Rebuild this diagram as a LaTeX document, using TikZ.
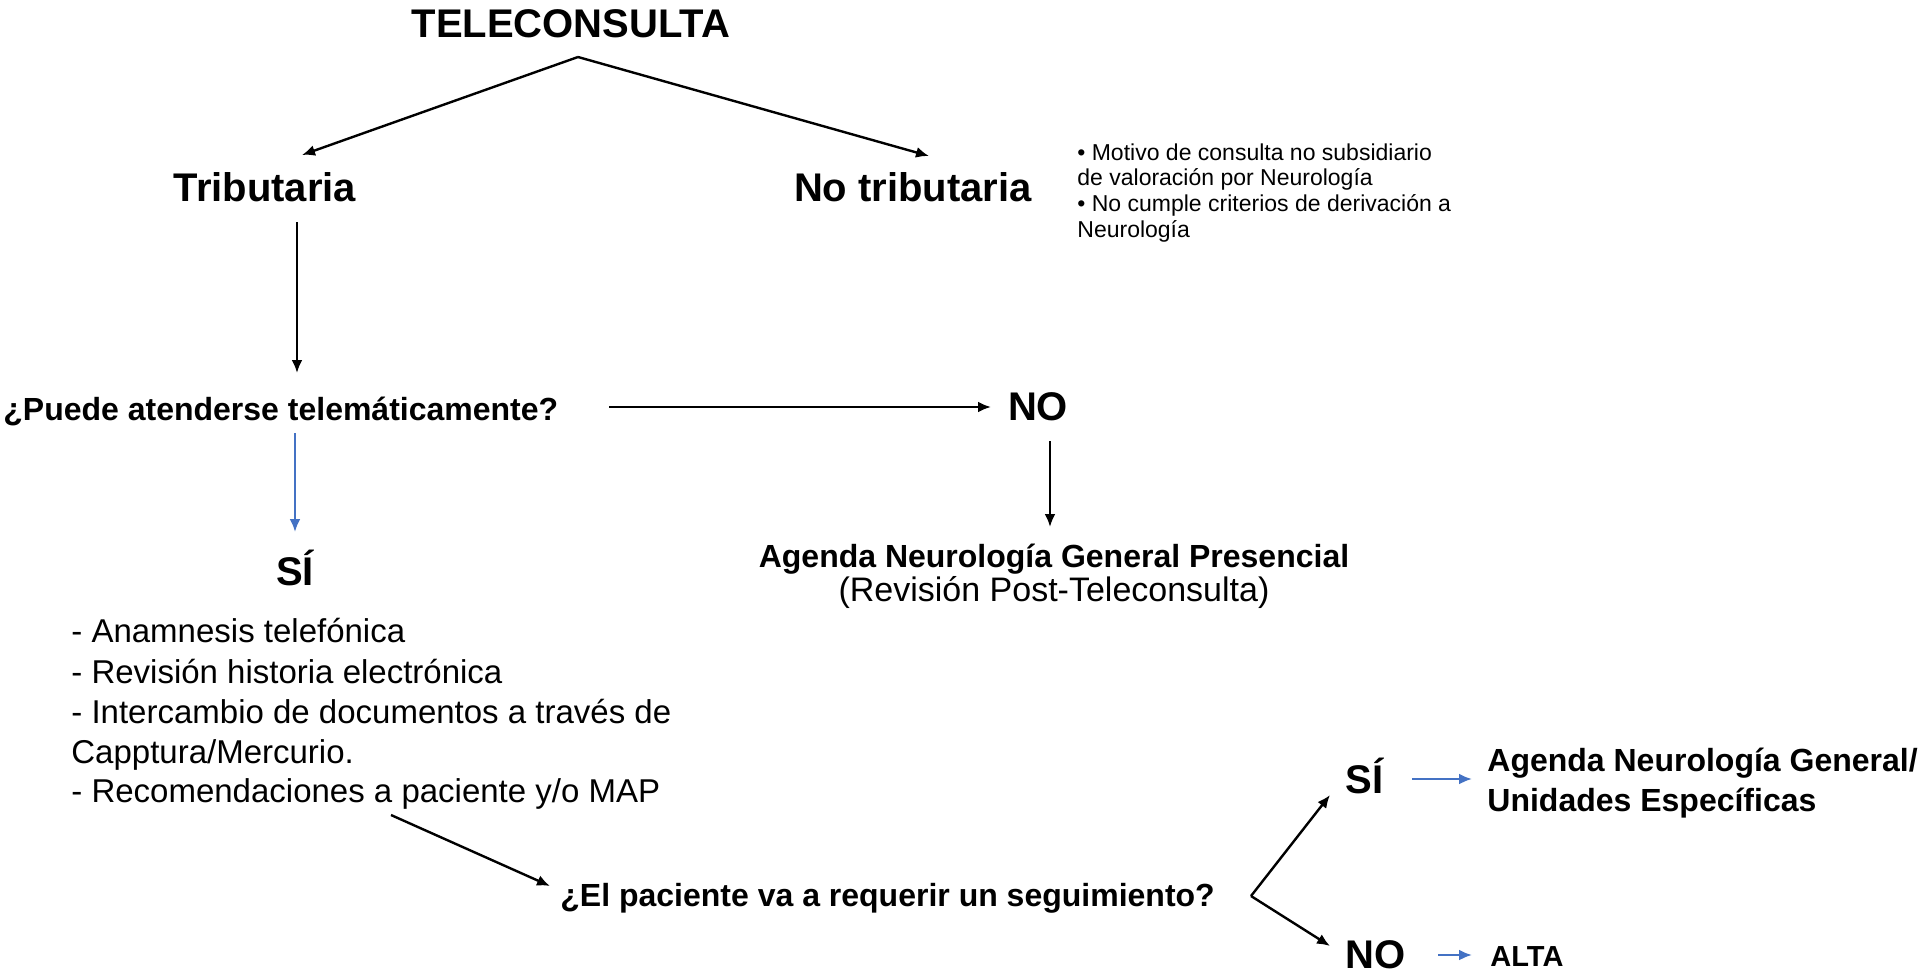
\documentclass[tikz,border=0pt]{standalone}
\usepackage{fontspec}
\setmainfont{Liberation Sans}
\usetikzlibrary{arrows.meta}
\definecolor{arrowblue}{RGB}{68,114,196}
\begin{document}
\begin{tikzpicture}[x=0.5pt,y=-0.5pt,
  big/.style={font=\fontsize{20pt}{24pt}\selectfont\bfseries, inner sep=0pt},
  mid/.style={font=\fontsize{16pt}{19pt}\selectfont\bfseries, inner sep=0pt},
  side/.style={font=\fontsize{16pt}{19pt}\selectfont\bfseries, inner sep=0pt},
  alta/.style={font=\fontsize{14.5pt}{17pt}\selectfont\bfseries, inner sep=0pt},
  reg/.style={font=\fontsize{16.5pt}{20pt}\selectfont, inner sep=0pt},
  regb/.style={font=\fontsize{17pt}{20pt}\selectfont, inner sep=0pt},
  note/.style={font=\fontsize{11.5pt}{13pt}\selectfont, inner sep=0pt},
  arr/.style={line width=1.2pt, -{Latex[length=6.5pt,width=5.5pt]}},
  barr/.style={arr, color=arrowblue}]
\fill[white] (0,0) rectangle (1930,975);
\useasboundingbox (0,0) rectangle (1930,975);

% texts
\node[big, anchor=base] (tele) at (571,37) {TELECONSULTA};
\node[big, anchor=base] (trib) at (265,201) {Tributaria};
\node[big, anchor=base] (notrib) at (913,201) {No tributaria};

\node[note, anchor=base west] (note1) at (1077,160) {• Motivo de consulta no subsidiario};
\node[note, anchor=base west] (note2) at (1077,185) {de valoración por Neurología};
\node[note, anchor=base west] (note3) at (1077,211) {• No cumple criterios de derivación a};
\node[note, anchor=base west] (note4) at (1077,237) {Neurología};

\node[mid, anchor=base west] (puede) at (3,420) {¿Puede atenderse telemáticamente?};
\node[big, anchor=base] (no1) at (1038,420) {NO};
\node[mid, anchor=base] (agpres) at (1054,567) {Agenda Neurología General Presencial};
\node[regb, anchor=base] (revis) at (1054,601) {(Revisión Post-Teleconsulta)};

\node[big, anchor=base] (si1) at (295,585) {SÍ};
\node[reg, anchor=base west] (l1) at (71,642) {- Anamnesis telefónica};
\node[reg, anchor=base west] (l2) at (71,683) {- Revisión historia electrónica};
\node[reg, anchor=base west] (l3) at (71,723) {- Intercambio de documentos a través de};
\node[reg, anchor=base west] (l4) at (71,763) {Capptura/Mercurio.};
\node[reg, anchor=base west] (l5) at (71,802) {- Recomendaciones a paciente y/o MAP};

\node[mid, anchor=base west] (seg) at (560,906) {¿El paciente va a requerir un seguimiento?};

\node[big, anchor=base west] (si2) at (1345,793) {SÍ};
\node[big, anchor=base west] (no2) at (1345,968) {NO};
\node[side, anchor=base west] (agg1) at (1487,771) {Agenda Neurología General/};
\node[side, anchor=base west] (agg2) at (1487,811) {Unidades Específicas};
\node[alta, anchor=base west] (alta) at (1490,966) {ALTA};

% connector points
\coordinate (apex) at (578,57);
\coordinate (tribtip) at (302,155);
\coordinate (notribtip) at (929,156);
\coordinate (tribfrom) at (297,222);
\coordinate (puedetip) at (297,373);
\coordinate (hfrom) at (609,407);
\coordinate (htip) at (991,407);
\coordinate (nofrom) at (1050,441);
\coordinate (notip) at (1050,527);
\coordinate (bfrom) at (295,433);
\coordinate (btip) at (295,532);
\coordinate (lfrom) at (391,815);
\coordinate (ltip) at (550,886);
\coordinate (vertex) at (1251,896);
\coordinate (sitip) at (1330,795);
\coordinate (notip2) at (1330,946);
\coordinate (b2from) at (1412,779);
\coordinate (b2tip) at (1472,779);
\coordinate (b3from) at (1438,955);
\coordinate (b3tip) at (1472,955);

% connectors
\draw[arr] (apex) -- (tribtip);
\draw[arr] (apex) -- (notribtip);
\draw[arr] (tribfrom) -- (puedetip);
\draw[arr] (hfrom) -- (htip);
\draw[arr] (nofrom) -- (notip);
\draw[barr] (bfrom) -- (btip);
\draw[arr] (lfrom) -- (ltip);
\draw[arr] (vertex) -- (sitip);
\draw[arr] (vertex) -- (notip2);
\draw[barr] (b2from) -- (b2tip);
\draw[barr] (b3from) -- (b3tip);
\end{tikzpicture}
\end{document}
